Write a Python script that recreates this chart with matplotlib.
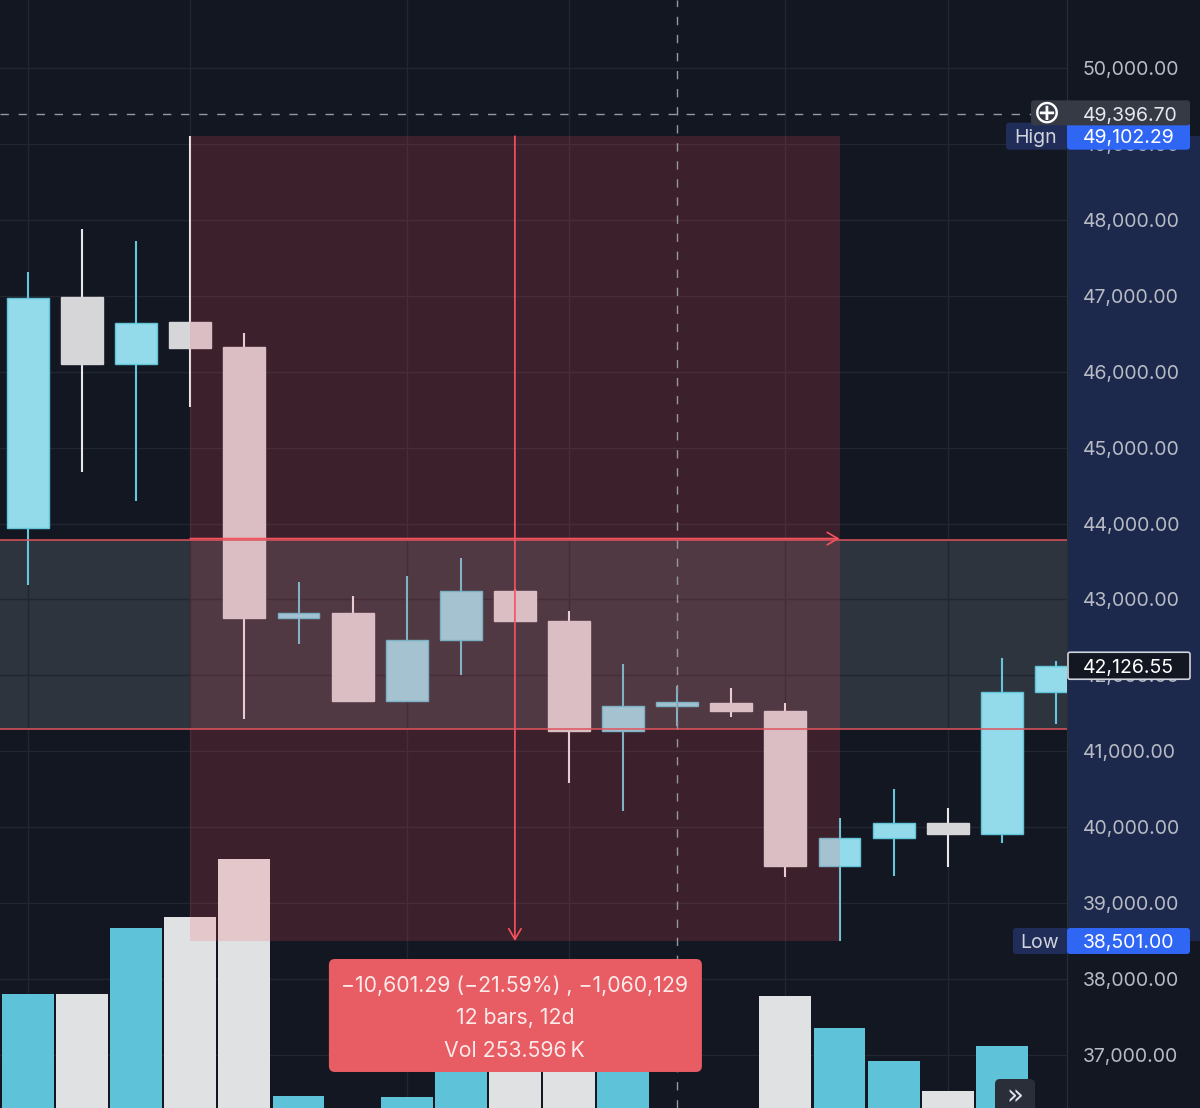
import matplotlib
matplotlib.use('Agg')
import matplotlib.pyplot as plt
import matplotlib.transforms as mtransforms
from matplotlib.patches import Rectangle, FancyBboxPatch
import numpy as np

# daily candles, index 0 = first bar on screen
opens  = [43941, 46984, 46097, 46659, 46321, 42751, 42821, 41666, 42462, 43111,
          42712, 41263, 41593, 41641, 41535, 39493, 39853, 40051, 39907, 41785]
highs  = [47313, 47879, 47721, 49102.29, 46506, 43230, 43045, 43309, 43546, 43135,
          42852, 42146, 41860, 41838, 41641, 40117, 40507, 40257, 42225, 42190]
lows   = [43190, 44679, 44297, 45539, 41430, 42413, 41653, 41650, 42008, 42700,
          40578, 40218, 41330, 41448, 39348, 38501.00, 39362, 39480, 39788, 41364]
closes = [46970, 46101, 46645, 46316, 42751, 42817, 41666, 42462, 43107, 42716,
          41267, 41596, 41645, 41527, 39493, 39858, 40051, 39907, 41785, 42126.55]
volumes = [34.2, 34.1, 48.8, 51.3, 64.2, 11.5, 7.4, 11.3, 19.5, 21.8,
           20.6, 22.9, 6.0, 8.1, 33.7, 26.6, 19.3, 12.7, 22.6, 6.5]  # K

grid_bars = [0, 3, 7, 10, 14, 17]
price_ticks = list(range(37000, 51000, 1000))

band_top, band_bottom = 43783, 41294
measure_start, measure_end = 3, 15
measure_high, measure_low = 49102.29, 38501.00
cross_bar, cross_price = 12, 49396.70
last_price = closes[-1]

BG = '#131722'
GRID = '#222631'
UP_FACE, UP_EDGE, UP_WICK = '#93dbea', '#62c5da', '#66c7dc'
DN_FACE, DN_WICK = '#d6d6d9', '#e8e8ea'
VOL_UP, VOL_DN = '#5ec3d9', '#e0e1e3'
RED = '#f7525f'
LABEL = '#b8bbc4'

plt.rcParams['font.family'] = ['Inter', 'DejaVu Sans']

fig = plt.figure(figsize=(12, 11.08), dpi=100, facecolor=BG)
ax = fig.add_axes([0, 0, 1067 / 1200, 1])
ax.set_facecolor(BG)

x = np.arange(len(opens))
up = [c >= o for o, c in zip(opens, closes)]

# grid
for p in price_ticks:
    ax.axhline(p, color=GRID, lw=1, zorder=0.5)
for b in grid_bars:
    ax.axvline(b, color=GRID, lw=1, zorder=0.5)

# horizontal zone
ax.axhspan(band_bottom, band_top, color='#2d343e', lw=0, zorder=0.3)

# volume, drawn in its own scale at the bottom of the pane
vol_bottom, vol_top = 8.9, 254.9
vol_trans = (mtransforms.Affine2D().translate(0, -vol_bottom).scale(1, 1 / (vol_top - vol_bottom))
             + mtransforms.blended_transform_factory(ax.transData, ax.transAxes))
ax.bar(x, volumes, width=0.96, color=[VOL_UP if u else VOL_DN for u in up],
       transform=vol_trans, zorder=2, lw=0)

# candles
ax.vlines(x, lows, highs, colors=[UP_WICK if u else DN_WICK for u in up], lw=1.5, zorder=3)
body_lo = np.minimum(opens, closes)
body_h = np.maximum(np.abs(np.array(closes) - np.array(opens)), 40)
ax.bar(x, body_h, bottom=body_lo, width=0.776,
       color=[UP_FACE if u else DN_FACE for u in up],
       edgecolor=[UP_EDGE if u else DN_FACE for u in up], lw=1, zorder=4)

# measure box
ax.add_patch(Rectangle((measure_start, measure_low), measure_end - measure_start,
                       measure_high - measure_low, fc=RED, alpha=0.18, lw=0, zorder=5))
mid_bar = (measure_start + measure_end) / 2
mid_price = (measure_high + measure_low) / 2
arrow = dict(arrowstyle='->,head_length=0.55,head_width=0.32', color=RED, lw=1.2,
             shrinkA=0, shrinkB=0, mutation_scale=14)
ax.annotate('', xy=(measure_end, mid_price), xytext=(measure_start, mid_price),
            arrowprops=arrow, zorder=6)
ax.annotate('', xy=(mid_bar, measure_low), xytext=(mid_bar, measure_high),
            arrowprops=arrow, zorder=6)

# zone edges
ax.axhline(band_top, color='#e0535c', lw=1.1, zorder=6)
ax.axhline(band_bottom, color='#e0535c', lw=1.1, zorder=6)

# crosshair
ax.axvline(cross_bar, color='#9598a1', lw=1, ls=(0, (6, 7)), zorder=7)
ax.axhline(cross_price, color='#9598a1', lw=1, ls=(0, (6, 7)), zorder=7)

ax.set_xlim(-0.5176, 19.205)
ax.set_ylim(36301, 50896)

# right price scale
ax.yaxis.tick_right()
ax.set_yticks(price_ticks)
ax.set_yticklabels([f'{p:,.2f}' for p in price_ticks])
ax.tick_params(axis='y', length=0, pad=11.5, labelsize=14, labelcolor=LABEL)
ax.set_xticks([])
for s in ['top', 'left', 'bottom']:
    ax.spines[s].set_visible(False)
ax.spines['right'].set_color('#2a2e39')

# highlighted range on the scale
ax.add_patch(Rectangle((1, measure_low), 0.2, measure_high - measure_low,
                       transform=mtransforms.blended_transform_factory(ax.transAxes, ax.transData),
                       fc='#1c294d', lw=0, clip_on=False, zorder=0.2))

pix = mtransforms.IdentityTransform()
H = 1108  # picture height, tags below are placed in pixels from the bottom


def py(p):
    return ax.transData.transform((0, p))[1]


def box(x0, x1, yc, fc, ec='none', h=26, r=3):
    fig.add_artist(FancyBboxPatch((x0, yc - h / 2), x1 - x0, h,
                                  boxstyle=f'round,pad=0,rounding_size={r}',
                                  fc=fc, ec=ec, lw=1.2, transform=pix))


def txt(x0, yc, s, color='#ffffff', ha='left', size=14, **kw):
    fig.text(x0, yc, s, transform=pix, color=color, ha=ha, va='center_baseline',
             fontsize=size, **kw)


# High / Low tags
y_hi, y_lo = py(measure_high), py(measure_low)
box(1006, 1070, y_hi, '#1f2d58', h=27)
txt(1036, y_hi, 'Hign', color='#d1d4dc', ha='center')
box(1067, 1190, y_hi, '#2f66f4', h=27)
txt(1083, y_hi, f'{measure_high:,.2f}')
box(1013, 1070, y_lo, '#1f2d58')
txt(1040, y_lo, 'Low', color='#d1d4dc', ha='center')
box(1067, 1190, y_lo, '#2f66f4')
txt(1083, y_lo, f'{measure_low:,.2f}')

# crosshair tag
y_cr = py(cross_price)
box(1031, 1190, y_cr + 1, '#363a45', h=25)
txt(1083, y_cr, f'{cross_price:,.2f}', color='#e6e8ee')
fig.text(1047, y_cr + 1, '\u2295', transform=pix, color='#ffffff', ha='center', va='center',
         fontsize=24, family='DejaVu Sans')

# last price tag
y_last = py(last_price)
box(1068, 1190, y_last, BG, ec='#d1d4dc', h=27, r=2)
txt(1083, y_last, f'{last_price:,.2f}')

# measure tooltip
diff = measure_low - measure_high
pct = diff / measure_high * 100
lines = [f'{diff:,.2f} ({pct:.2f}%) , {diff * 100:,.0f}'.replace('-', '\u2212'),
         f'{measure_end - measure_start} bars, {measure_end - measure_start}d',
         'Vol 253.596\u2009K']
cx = ax.transData.transform((mid_bar, 0))[0]
top = y_lo - 18
box(cx - 186, cx + 187, top - 56.5, '#e85c64', h=113, r=6)
for k, s in enumerate(lines):
    txt(cx, top - 25 - 32.5 * k, s, color='#fbeaea', ha='center', size=15.3)

# scroll button at the bottom right of the pane
box(995, 1035, H - 1097, '#2a2e39', h=36, r=5)
fig.text(1015, H - 1096, '\u00bb', transform=pix, color='#e0e3eb', ha='center', va='center',
         fontsize=20, family='DejaVu Sans')

fig.savefig('out.png', dpi=100, facecolor=BG)
